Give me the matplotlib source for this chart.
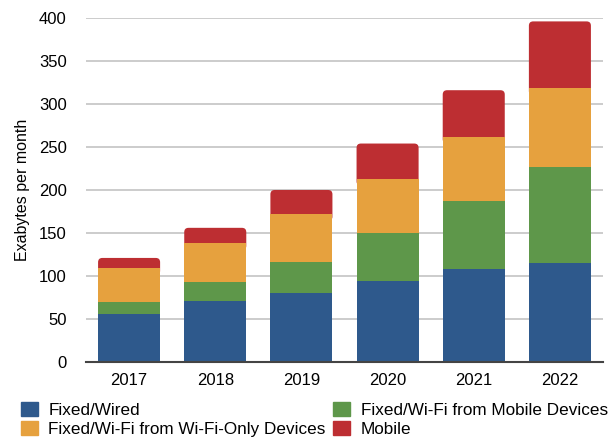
import matplotlib
matplotlib.use("Agg")
import matplotlib.pyplot as plt
import numpy as np
from matplotlib.patches import FancyBboxPatch, Patch

plt.rcParams['font.family'] = ['Liberation Sans', 'DejaVu Sans']

years = ['2017', '2018', '2019', '2020', '2021', '2022']
fixed_wired = [56, 71, 80, 94, 108, 115]
wifi_mobile = [14, 22, 36, 56, 79, 112]
wifi_only = [39, 45, 56, 63, 75, 91]
mobile = [12, 18, 28, 41, 54, 78]

series_names = ['Fixed/Wired', 'Fixed/Wi-Fi from Mobile Devices',
                'Fixed/Wi-Fi from Wi-Fi-Only Devices', 'Mobile']
colors = ['#2e598c', '#5e974a', '#e6a13e', '#bd2e32']

fig = plt.figure(figsize=(6.1, 4.38), dpi=100)
ax = fig.add_axes([0.141, 0.1735, 0.8475, 0.7855])

x = np.arange(len(years))
width = 0.72
bottom = np.zeros(len(years))
for vals, col in zip([fixed_wired, wifi_mobile, wifi_only], colors[:3]):
    ax.bar(x, vals, width, bottom=bottom, color=col, zorder=3)
    bottom += np.array(vals)

# top segment with rounded corners; the rounded bottom is hidden under the orange
r = 0.05
aspect = 100
for xi, b, h in zip(x, bottom, mobile):
    ext = 8
    p = FancyBboxPatch((xi - width / 2 + r, b - ext + r * aspect),
                       width - 2 * r, h + ext - 2 * r * aspect,
                       boxstyle="round,pad=%f,rounding_size=%f" % (r, r),
                       mutation_aspect=aspect, fc=colors[3], ec='none', zorder=2)
    ax.add_patch(p)

ax.set_xlim(-0.5, 5.5)
ax.set_ylim(0, 400)
ax.set_yticks(np.arange(0, 401, 50))
ax.set_xticks(x)
ax.set_xticklabels(years)
ax.yaxis.grid(True, color='#c4c4c4', linewidth=1.2, zorder=0)
ax.set_axisbelow(True)
for s in ['top', 'right', 'left']:
    ax.spines[s].set_visible(False)
ax.spines['bottom'].set_color('#444444')
ax.spines['bottom'].set_linewidth(1.5)
ax.spines['bottom'].set_zorder(4)
ax.tick_params(axis='both', length=0, labelsize=12)
ax.tick_params(axis='y', pad=14)
ax.tick_params(axis='x', pad=8)
ax.set_ylabel('Exabytes per month', fontsize=11.5, labelpad=6)

handles = [Patch(color=colors[0]), Patch(color=colors[2]),
           Patch(color=colors[1]), Patch(color=colors[3])]
labels = [series_names[0], series_names[2], series_names[1], series_names[3]]
fig.legend(handles, labels, loc='upper left', bbox_to_anchor=(21 / 610, 1 - 402 / 438),
           ncol=2, frameon=False, fontsize=12.3, handlelength=1.0, handleheight=0.9,
           handletextpad=0.6, columnspacing=0.45, labelspacing=0.18,
           borderaxespad=0, borderpad=0)

fig.savefig('out.png', dpi=100)
